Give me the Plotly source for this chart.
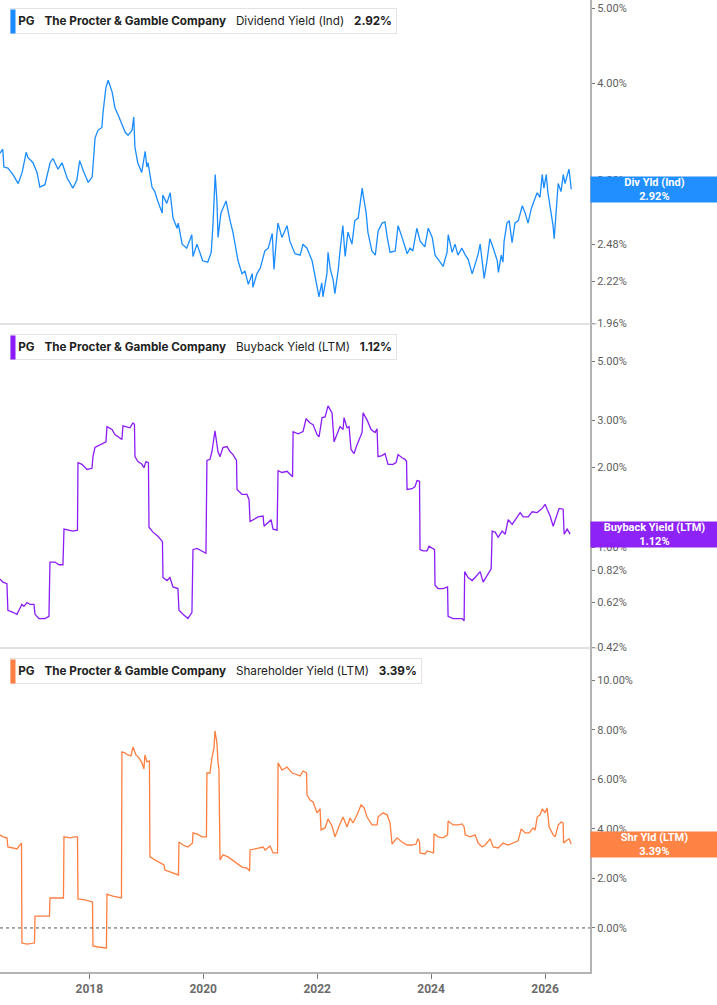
import plotly.graph_objects as go
from plotly.subplots import make_subplots
from datetime import datetime
import math

# ---------------- data (decimal years, percent) ----------------
div_t = [2016.43, 2016.48, 2016.50, 2016.57, 2016.66, 2016.75, 2016.82, 2016.89, 2016.92, 2017.01,
         2017.08, 2017.13, 2017.22, 2017.31, 2017.36, 2017.45, 2017.52, 2017.61, 2017.71, 2017.78,
         2017.83, 2017.89, 2017.98, 2018.05, 2018.10, 2018.15, 2018.22, 2018.24, 2018.29, 2018.33,
         2018.40, 2018.45, 2018.50, 2018.54, 2018.63, 2018.68, 2018.75, 2018.78, 2018.80, 2018.85,
         2018.92, 2018.98, 2019.01, 2019.03, 2019.10, 2019.15, 2019.20, 2019.28, 2019.29, 2019.36,
         2019.42, 2019.47, 2019.54, 2019.56, 2019.63, 2019.71, 2019.80, 2019.82, 2019.89, 2019.94,
         2019.99, 2020.08, 2020.14, 2020.17, 2020.21, 2020.24, 2020.26, 2020.31, 2020.35, 2020.40,
         2020.47, 2020.52, 2020.61, 2020.68, 2020.73, 2020.79, 2020.86, 2020.87, 2020.94, 2021.00,
         2021.08, 2021.14, 2021.21, 2021.24, 2021.29, 2021.31, 2021.38, 2021.47, 2021.52, 2021.61,
         2021.70, 2021.75, 2021.82, 2021.91, 2022.00, 2022.03, 2022.08, 2022.10, 2022.17, 2022.19,
         2022.23, 2022.28, 2022.31, 2022.37, 2022.40, 2022.45, 2022.49, 2022.54, 2022.61, 2022.66,
         2022.72, 2022.79, 2022.80, 2022.86, 2022.89, 2022.96, 2023.02, 2023.07, 2023.14, 2023.19,
         2023.23, 2023.28, 2023.37, 2023.42, 2023.49, 2023.58, 2023.63, 2023.68, 2023.75, 2023.81,
         2023.89, 2023.95, 2024.02, 2024.07, 2024.16, 2024.21, 2024.28, 2024.30, 2024.37, 2024.42,
         2024.47, 2024.54, 2024.60, 2024.65, 2024.72, 2024.77, 2024.82, 2024.86, 2024.89, 2024.93,
         2024.98, 2025.03, 2025.09, 2025.16, 2025.18, 2025.23, 2025.26, 2025.28, 2025.33, 2025.37,
         2025.42, 2025.47, 2025.53, 2025.60, 2025.65, 2025.70, 2025.76, 2025.83, 2025.86, 2025.91,
         2025.95, 2025.98, 2026.02, 2026.05, 2026.11, 2026.14, 2026.16, 2026.19, 2026.23, 2026.28,
         2026.32, 2026.35, 2026.39, 2026.42, 2026.46]
div_v = [3.25, 3.29, 3.12, 3.11, 3.05, 2.97, 3.07, 3.26, 3.21, 3.16,
         3.07, 2.94, 2.96, 3.16, 3.20, 3.10, 3.16, 3.02, 2.93, 3.00,
         3.18, 3.09, 2.98, 3.03, 3.40, 3.48, 3.51, 3.67, 3.95, 4.04,
         3.90, 3.72, 3.65, 3.59, 3.46, 3.43, 3.48, 3.62, 3.31, 3.16,
         3.07, 3.27, 3.12, 3.16, 2.94, 2.90, 2.82, 2.72, 2.87, 2.80,
         2.89, 2.68, 2.60, 2.64, 2.48, 2.45, 2.55, 2.39, 2.48, 2.42,
         2.36, 2.35, 2.42, 2.62, 3.05, 2.82, 2.53, 2.72, 2.76, 2.82,
         2.66, 2.57, 2.36, 2.27, 2.29, 2.20, 2.27, 2.18, 2.27, 2.31,
         2.43, 2.45, 2.56, 2.30, 2.55, 2.64, 2.53, 2.62, 2.50, 2.41,
         2.40, 2.48, 2.45, 2.36, 2.18, 2.12, 2.21, 2.12, 2.27, 2.42,
         2.30, 2.23, 2.14, 2.30, 2.43, 2.62, 2.39, 2.57, 2.48, 2.66,
         2.68, 2.93, 2.89, 2.72, 2.57, 2.43, 2.40, 2.58, 2.64, 2.65,
         2.53, 2.42, 2.43, 2.62, 2.53, 2.41, 2.45, 2.43, 2.60, 2.50,
         2.46, 2.60, 2.53, 2.40, 2.35, 2.32, 2.42, 2.55, 2.42, 2.48,
         2.40, 2.45, 2.40, 2.37, 2.27, 2.33, 2.40, 2.48, 2.39, 2.24,
         2.36, 2.52, 2.45, 2.36, 2.28, 2.40, 2.35, 2.50, 2.64, 2.66,
         2.49, 2.64, 2.66, 2.78, 2.72, 2.64, 2.76, 2.84, 2.89, 2.85,
         3.05, 2.93, 3.05, 2.89, 2.72, 2.62, 2.52, 2.72, 2.97, 2.90,
         3.05, 2.97, 3.05, 3.10, 2.92]

bb_t = [2016.430, 2016.483, 2016.553, 2016.570, 2016.658, 2016.729, 2016.764, 2016.816, 2016.851, 2016.904,
        2016.957, 2017.027, 2017.045, 2017.115, 2017.220, 2017.290, 2017.308, 2017.396, 2017.466, 2017.536,
        2017.554, 2017.624, 2017.712, 2017.791, 2017.800, 2017.870, 2017.958, 2018.046, 2018.063, 2018.098,
        2018.186, 2018.239, 2018.292, 2018.309, 2018.397, 2018.450, 2018.502, 2018.572, 2018.590, 2018.660,
        2018.713, 2018.766, 2018.792, 2018.801, 2018.853, 2018.924, 2018.959, 2018.994, 2019.038, 2019.047,
        2019.117, 2019.205, 2019.284, 2019.293, 2019.363, 2019.416, 2019.468, 2019.556, 2019.574, 2019.644,
        2019.732, 2019.802, 2019.820, 2019.890, 2019.978, 2020.048, 2020.065, 2020.118, 2020.153, 2020.188,
        2020.206, 2020.241, 2020.258, 2020.294, 2020.346, 2020.417, 2020.469, 2020.522, 2020.583, 2020.592,
        2020.680, 2020.768, 2020.803, 2020.821, 2020.873, 2020.961, 2021.049, 2021.066, 2021.137, 2021.189,
        2021.224, 2021.295, 2021.312, 2021.382, 2021.470, 2021.567, 2021.576, 2021.663, 2021.751, 2021.804,
        2021.874, 2021.927, 2021.997, 2022.032, 2022.085, 2022.138, 2022.190, 2022.260, 2022.296, 2022.348,
        2022.401, 2022.454, 2022.471, 2022.524, 2022.559, 2022.594, 2022.647, 2022.700, 2022.752, 2022.788,
        2022.805, 2022.875, 2022.946, 2023.016, 2023.051, 2023.068, 2023.139, 2023.191, 2023.244, 2023.332,
        2023.385, 2023.420, 2023.490, 2023.543, 2023.569, 2023.578, 2023.666, 2023.718, 2023.753, 2023.797,
        2023.806, 2023.859, 2023.929, 2023.964, 2024.061, 2024.069, 2024.122, 2024.210, 2024.289, 2024.298,
        2024.386, 2024.474, 2024.544, 2024.579, 2024.588, 2024.649, 2024.719, 2024.772, 2024.860, 2024.912,
        2024.982, 2025.053, 2025.070, 2025.123, 2025.176, 2025.246, 2025.299, 2025.352, 2025.422, 2025.475,
        2025.562, 2025.615, 2025.703, 2025.773, 2025.861, 2025.949, 2026.001, 2026.036, 2026.089, 2026.142,
        2026.212, 2026.247, 2026.317, 2026.335, 2026.388, 2026.440]
bb_v = [0.76, 0.74, 0.73, 0.58, 0.57, 0.56, 0.58, 0.61, 0.60, 0.62,
        0.61, 0.61, 0.56, 0.54, 0.54, 0.55, 0.88, 0.88, 0.86, 0.86,
        1.17, 1.16, 1.15, 1.16, 2.08, 2.05, 1.96, 1.98, 2.19, 2.37,
        2.43, 2.47, 2.49, 2.84, 2.77, 2.65, 2.60, 2.54, 2.86, 2.84,
        2.81, 2.93, 2.90, 2.19, 2.10, 2.05, 1.99, 2.10, 2.08, 1.19,
        1.14, 1.10, 1.05, 0.77, 0.75, 0.77, 0.71, 0.70, 0.58, 0.56,
        0.54, 0.57, 0.98, 0.99, 0.97, 0.95, 2.12, 2.14, 2.29, 2.58,
        2.74, 2.43, 2.29, 2.19, 2.37, 2.39, 2.29, 2.23, 2.12, 1.65,
        1.58, 1.58, 1.51, 1.25, 1.27, 1.30, 1.31, 1.20, 1.24, 1.27,
        1.17, 1.16, 1.94, 1.91, 1.93, 1.84, 2.72, 2.67, 2.72, 3.04,
        2.93, 2.89, 2.65, 2.60, 3.07, 3.09, 3.40, 3.20, 2.49, 2.65,
        2.84, 2.77, 3.07, 2.81, 2.84, 2.33, 2.25, 2.43, 2.58, 2.70,
        3.20, 3.01, 2.77, 2.70, 2.79, 2.19, 2.21, 2.25, 2.05, 2.05,
        2.08, 2.23, 2.17, 2.14, 2.10, 1.65, 1.66, 1.69, 1.78, 1.77,
        0.98, 0.97, 0.97, 1.01, 0.98, 0.72, 0.70, 0.70, 0.71, 0.55,
        0.54, 0.54, 0.54, 0.53, 0.81, 0.77, 0.75, 0.77, 0.81, 0.74,
        0.78, 0.83, 1.15, 1.14, 1.09, 1.15, 1.12, 1.27, 1.22, 1.27,
        1.35, 1.30, 1.30, 1.36, 1.35, 1.40, 1.45, 1.39, 1.31, 1.20,
        1.33, 1.40, 1.39, 1.12, 1.17, 1.12]

shy_t = [2016.430, 2016.483, 2016.553, 2016.570, 2016.658, 2016.729, 2016.781, 2016.808, 2016.816, 2016.904,
         2017.036, 2017.045, 2017.132, 2017.299, 2017.308, 2017.396, 2017.545, 2017.554, 2017.659, 2017.747,
         2017.791, 2017.800, 2017.923, 2018.055, 2018.063, 2018.151, 2018.300, 2018.309, 2018.414, 2018.564,
         2018.572, 2018.625, 2018.678, 2018.730, 2018.766, 2018.818, 2018.871, 2018.924, 2018.959, 2018.976,
         2019.012, 2019.055, 2019.064, 2019.152, 2019.240, 2019.310, 2019.328, 2019.416, 2019.468, 2019.565,
         2019.574, 2019.644, 2019.732, 2019.811, 2019.820, 2019.890, 2019.978, 2020.056, 2020.065, 2020.118,
         2020.153, 2020.188, 2020.206, 2020.241, 2020.258, 2020.276, 2020.294, 2020.346, 2020.434, 2020.504,
         2020.592, 2020.680, 2020.768, 2020.812, 2020.821, 2020.944, 2021.049, 2021.084, 2021.172, 2021.224,
         2021.303, 2021.312, 2021.382, 2021.470, 2021.558, 2021.611, 2021.663, 2021.699, 2021.751, 2021.813,
         2021.821, 2021.874, 2021.927, 2021.997, 2022.050, 2022.067, 2022.138, 2022.190, 2022.260, 2022.313,
         2022.384, 2022.454, 2022.524, 2022.577, 2022.629, 2022.700, 2022.770, 2022.823, 2022.875, 2022.963,
         2023.051, 2023.068, 2023.156, 2023.227, 2023.279, 2023.314, 2023.402, 2023.490, 2023.578, 2023.666,
         2023.736, 2023.771, 2023.797, 2023.806, 2023.894, 2023.929, 2024.043, 2024.052, 2024.122, 2024.210,
         2024.289, 2024.298, 2024.386, 2024.474, 2024.544, 2024.579, 2024.597, 2024.684, 2024.772, 2024.825,
         2024.895, 2024.947, 2025.035, 2025.088, 2025.176, 2025.263, 2025.352, 2025.439, 2025.527, 2025.580,
         2025.650, 2025.720, 2025.791, 2025.826, 2025.861, 2025.913, 2025.949, 2026.001, 2026.036, 2026.054,
         2026.071, 2026.142, 2026.177, 2026.230, 2026.282, 2026.317, 2026.326, 2026.388, 2026.423, 2026.458]
shy_v = [3.76, 3.68, 3.64, 3.27, 3.23, 3.19, 3.35, 3.43, -0.61, -0.65,
         -0.61, 0.48, 0.48, 0.48, 1.21, 1.21, 1.21, 3.68, 3.64, 3.68,
         3.68, 1.17, 1.13, 1.05, -0.73, -0.77, -0.81, 1.37, 1.29, 1.21,
         7.11, 7.07, 6.99, 6.95, 7.31, 6.99, 6.87, 6.67, 6.42, 6.99,
         6.71, 6.75, 2.87, 2.75, 2.63, 2.55, 2.34, 2.26, 2.22, 2.14,
         3.47, 3.35, 3.27, 3.43, 3.84, 3.80, 3.68, 3.68, 6.26, 6.26,
         6.87, 7.27, 7.96, 7.47, 6.71, 6.40, 2.75, 2.95, 2.87, 2.75,
         2.63, 2.46, 2.42, 2.30, 3.15, 3.23, 3.27, 3.15, 3.31, 3.03,
         3.03, 6.67, 6.38, 6.50, 6.26, 6.22, 6.18, 6.14, 6.34, 6.26,
         5.37, 5.17, 5.09, 4.65, 4.81, 3.96, 4.04, 4.40, 4.12, 3.68,
         4.12, 4.48, 4.08, 4.44, 4.24, 4.57, 4.97, 4.85, 4.48, 4.16,
         4.16, 4.48, 4.65, 4.57, 4.24, 3.39, 3.64, 3.47, 3.35, 3.35,
         3.39, 3.60, 3.47, 3.03, 2.99, 3.11, 3.03, 3.80, 3.68, 3.64,
         3.76, 4.32, 4.16, 4.16, 4.20, 4.08, 3.76, 3.68, 3.76, 3.43,
         3.27, 3.35, 3.60, 3.27, 3.23, 3.43, 3.35, 3.43, 3.52, 4.00,
         3.84, 3.84, 4.04, 3.96, 4.48, 4.57, 4.81, 4.65, 4.85, 4.48,
         4.08, 3.76, 3.68, 4.16, 4.28, 4.24, 3.43, 3.55, 3.60, 3.39]

div_ticks = [1.96, 2.22, 2.48, 3.00, 4.00, 5.00]
bb_ticks = [0.42, 0.62, 0.82, 1.00, 2.00, 3.00, 5.00]
shy_ticks = [0, 2, 4, 6, 8, 10]
x_ticks = ["2018-01-01", "2020-01-01", "2022-01-01", "2024-01-01", "2026-01-01"]
x_tick_text = ["2018", "2020", "2022", "2024", "2026"]

BLUE = "#1a8cff"
PURPLE = "#8b1cf7"
ORANGE = "#ff7f40"


def to_date(t):
    y = int(t)
    start = datetime(y, 1, 1)
    end = datetime(y + 1, 1, 1)
    return start + (end - start) * (t - y)


fig = make_subplots(rows=3, cols=1, shared_xaxes=True, vertical_spacing=0)

fig.add_trace(go.Scatter(x=[to_date(t) for t in div_t], y=div_v, mode="lines",
                         line=dict(color=BLUE, width=1.3)), row=1, col=1)
fig.add_trace(go.Scatter(x=[to_date(t) for t in bb_t], y=bb_v, mode="lines",
                         line=dict(color=PURPLE, width=1.3)), row=2, col=1)
fig.add_trace(go.Scatter(x=[to_date(t) for t in shy_t], y=shy_v, mode="lines",
                         line=dict(color=ORANGE, width=1.3)), row=3, col=1)

AX = "#b3b3b3"
TICKFONT = dict(family="Roboto", size=11, color="#5e5e5e")

common_y = dict(side="right", showgrid=False, zeroline=False, showline=True,
                linecolor=AX, linewidth=2, ticks="outside", ticklen=3,
                tickcolor="#777", tickfont=TICKFONT)

fig.update_yaxes(type="log", range=[math.log10(1.955), math.log10(5.13)],
                 tickvals=div_ticks, ticktext=[f"{v:.2f}%" for v in div_ticks],
                 row=1, col=1, **common_y)
fig.update_yaxes(type="log", range=[math.log10(0.4185), math.log10(6.90)],
                 tickvals=bb_ticks, ticktext=[f"{v:.2f}%" for v in bb_ticks],
                 row=2, col=1, **common_y)
fig.update_yaxes(range=[-1.78, 11.31],
                 tickvals=shy_ticks, ticktext=[f"{v:.2f}%" for v in shy_ticks],
                 row=3, col=1, **common_y)

x_range = ["2016-06-07", "2026-10-16"]
fig.update_xaxes(range=x_range, showgrid=False, zeroline=False, showline=False,
                 showticklabels=False, ticks="")
fig.update_xaxes(row=3, col=1, showline=True, linecolor=AX, linewidth=2,
                 ticks="outside", ticklen=5, tickcolor="#777",
                 tickvals=x_ticks, ticktext=x_tick_text, showticklabels=True,
                 tickfont=dict(family="Roboto", size=12, color="#6b6b6b", weight="bold"))

PLOT_W = 590.0
PLOT_H = 972.0

shapes = []
for py in (324, 648):
    shapes.append(dict(type="line", xref="paper", yref="paper", x0=0, x1=1.012,
                       y0=1 - py / PLOT_H, y1=1 - py / PLOT_H,
                       line=dict(color="#c4c4c4", width=1)))
shapes.append(dict(type="line", xref="x3 domain", yref="y3", x0=0, x1=1, y0=0, y1=0,
                   line=dict(color="#555", width=1, dash="dot")))
fig.update_layout(shapes=shapes)

annotations = []
NB = "\u00a0"
SP = NB * 3
headers = [
    (8, "Dividend Yield (Ind)", "2.92%", BLUE),
    (334, "Buyback Yield (LTM)", "1.12%", PURPLE),
    (658, "Shareholder Yield (LTM)", "3.39%", ORANGE),
]
for py, metric, val, col in headers:
    txt = (f"<b>PG</b>{SP}<b>The Procter &amp; Gamble Company</b>{SP}"
           f"{metric}{SP}<b>{val}</b>")
    annotations.append(dict(xref="paper", yref="paper", x=10 / PLOT_W, y=1 - py / PLOT_H,
                            xanchor="left", yanchor="top", showarrow=False, text=NB + txt,
                            align="left", font=dict(family="Inter", size=11.7, color="#222"),
                            bgcolor="white", bordercolor="#e3e3e3", borderwidth=1,
                            borderpad=4, height=16))
    annotations.append(dict(xref="paper", yref="paper", x=10 / PLOT_W, y=1 - (py + 1) / PLOT_H,
                            xanchor="left", yanchor="top", showarrow=False, text="",
                            bgcolor=col, borderpad=0, width=4, height=23))

labels = [
    ("y", math.log10(div_v[-1]), "Div Yld (Ind)", f"{div_v[-1]:.2f}%", BLUE),
    ("y2", math.log10(bb_v[-1]), "Buyback Yield (LTM)", f"{bb_v[-1]:.2f}%", PURPLE),
    ("y3", shy_v[-1], "Shr Yld (LTM)", f"{shy_v[-1]:.2f}%", ORANGE),
]
for yref, yv, name, val, col in labels:
    annotations.append(dict(xref="paper", yref=yref, x=1, y=yv, xanchor="left",
                            yanchor="middle", showarrow=False,
                            text=f"<b>{name}</b><br><b>{val}</b>",
                            font=dict(family="Roboto", size=11, color="white"),
                            bgcolor=col, opacity=0.97, width=127, height=25,
                            borderpad=0, align="center"))

fig.update_layout(annotations=annotations)

fig.update_layout(width=717, height=1005, margin=dict(l=0, r=127, t=0, b=33),
                  plot_bgcolor="white", paper_bgcolor="white", showlegend=False)

fig.write_html("out.html")
